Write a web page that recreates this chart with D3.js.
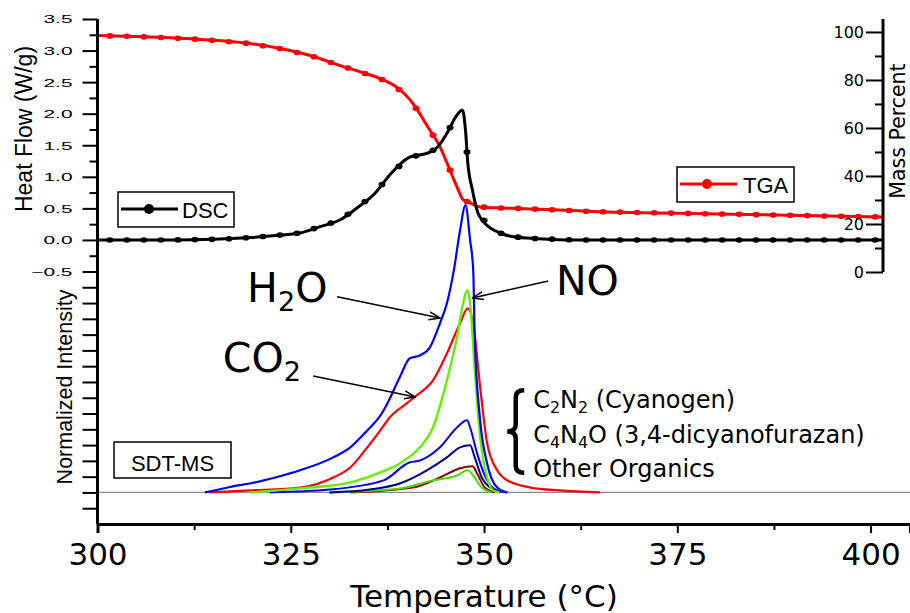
<!DOCTYPE html>
<html>
<head>
<meta charset="utf-8">
<script src="https://cdn.jsdelivr.net/npm/d3@7"></script>
<style>
  body { margin: 0; background: #fff; }
</style>
</head>
<body>
<div id="chart"></div>
<script>
// DSC heat flow (W/g)
var dscTemp = [300, 310, 315, 318, 320, 323, 326.2, 328.8, 331.4, 333.6, 335.9, 337.8, 340.2, 343.0, 343.9, 345.2, 346.5, 347.2, 347.6, 347.9, 348.5, 349.2, 350.8, 352.1, 353.8, 357, 362, 401.6];
var dscHeat = [0, 0, 0.01, 0.025, 0.04, 0.07, 0.11, 0.21, 0.32, 0.51, 0.74, 1.03, 1.30, 1.39, 1.46, 1.69, 1.98, 2.06, 1.74, 1.22, 0.79, 0.43, 0.19, 0.11, 0.05, 0.02, 0, 0];

// TGA mass percent
var tgaTemp = [300, 306.8, 313.3, 319.7, 323.6, 327.5, 331.4, 334, 337, 338.7, 340.8, 342.8, 344.3, 345.2, 346.5, 347.3, 348.2, 349.5, 352.1, 354.3, 365, 380, 401.6];
var tgaMass = [98.5, 97.9, 96.9, 95.2, 93.1, 90.2, 86.0, 83.4, 80.0, 77.0, 70.2, 60.1, 52.2, 45.5, 35.5, 30.1, 28.8, 27.1, 26.7, 26.5, 25.1, 24.2, 22.9];

// SDT-MS traces, normalized to the H2O peak
var h2oTemp = [313.9, 316, 317.5, 319.7, 323, 326.2, 330.5, 332.7, 334.9, 336.6, 337.5, 339.1, 340.4, 341.7, 343.0, 344.3, 345.2, 346.1, 346.9, 347.6, 348.2, 348.6, 348.8, 349.5, 350.4, 351.7, 353.0];
var h2oInt = [0, 0.012, 0.021, 0.031, 0.052, 0.077, 0.122, 0.157, 0.216, 0.268, 0.310, 0.401, 0.467, 0.477, 0.505, 0.589, 0.659, 0.774, 0.913, 1.0, 0.878, 0.774, 0.540, 0.251, 0.101, 0.017, 0];
var noTemp = [319.7, 326.2, 332.7, 336.6, 339.1, 341.7, 343.4, 345.2, 346.5, 347.3, 347.8, 348.2, 348.8, 349.5, 350.4, 351.2, 352];
var noInt = [0, 0.014, 0.035, 0.070, 0.101, 0.157, 0.226, 0.390, 0.540, 0.659, 0.704, 0.659, 0.425, 0.192, 0.052, 0.007, 0];
var co2Temp = [314.6, 319.7, 326.2, 330.5, 332.7, 334.9, 336.4, 337.8, 340.0, 341.3, 343.4, 345.2, 346.9, 347.9, 348.6, 349.5, 350.4, 351.7, 353.0, 356.0, 359.8, 365];
var co2Int = [0, 0.007, 0.017, 0.052, 0.087, 0.157, 0.209, 0.261, 0.310, 0.338, 0.390, 0.484, 0.589, 0.641, 0.589, 0.366, 0.171, 0.077, 0.042, 0.017, 0.007, 0];
var c2n2Temp = [322.3, 330, 337, 340.4, 341.7, 344.3, 346.5, 347.8, 348.2, 349.1, 350.4, 351.7, 353];
var c2n2Int = [0, 0.010, 0.042, 0.105, 0.111, 0.157, 0.226, 0.251, 0.226, 0.136, 0.042, 0.007, 0];
var c4n4oTemp = [330, 335.2, 339.1, 342.6, 345.2, 346.9, 348.2, 348.8, 349.7, 350.8, 352.1];
var c4n4oInt = [0, 0.010, 0.031, 0.077, 0.122, 0.157, 0.164, 0.122, 0.052, 0.017, 0];
var orgATemp = [332.7, 340.8, 344.3, 346.9, 348.5, 349.1, 350.1, 351.4];
var orgAInt = [0, 0.017, 0.052, 0.084, 0.091, 0.066, 0.017, 0];
var orgBTemp = [330, 339.1, 343.4, 346.5, 347.9, 348.6, 349.7, 351];
var orgBInt = [0, 0.014, 0.042, 0.059, 0.077, 0.059, 0.017, 0];

// tick labels
var tempTicks = [300, 325, 350, 375, 400];
var heatTicks = [-0.5, 0, 0.5, 1, 1.5, 2, 2.5, 3, 3.5];
var massTicks = [0, 20, 40, 60, 80, 100];

var svgWidth = 910;
var svgHeight = 613;

var svg = d3.select("#chart")
  .append("svg")
  .attr("width", svgWidth)
  .attr("height", svgHeight)
  .style("font-family", "DejaVu Sans");

svg.append("defs").append("marker")
  .attr("id", "arrow")
  .attr("viewBox", "0 0 12 10")
  .attr("refX", 11)
  .attr("refY", 5)
  .attr("markerWidth", 12)
  .attr("markerHeight", 10)
  .attr("markerUnits", "userSpaceOnUse")
  .attr("orient", "auto")
  .append("path")
  .attr("d", "M0,1 L11,5 L0,9")
  .attr("fill", "none")
  .attr("stroke", "black")
  .attr("stroke-width", 1.5);

// Create Scale Functions
var xScale = d3.scaleLinear().domain([300, 405.1]).range([97.5, 910]);
var yHeat = d3.scaleLinear().domain([-4.5, 3.5]).range([524, 19]);
var yMass = d3.scaleLinear().domain([0, 105.4]).range([272, 19]);
var yMS = d3.scaleLinear().domain([0, 1]).range([yHeat(-4), yHeat(0.55)]);

function zip(a, b) { return a.map(function(t, i) { return [t, b[i]]; }); }

var msLine = d3.line()
  .x(d => xScale(d[0]))
  .y(d => yMS(d[1]))
  .curve(d3.curveMonotoneX);

// MS baseline
svg.append("line")
  .attr("x1", xScale(300)).attr("x2", svgWidth)
  .attr("y1", yMS(0)).attr("y2", yMS(0))
  .attr("stroke", "#8a8a8a")
  .attr("stroke-width", 1.2);

var msSeries = [
  { t: orgATemp, v: orgAInt, color: "#8b0000", w: 2 },
  { t: orgBTemp, v: orgBInt, color: "#44dd00", w: 2 },
  { t: c4n4oTemp, v: c4n4oInt, color: "#00008b", w: 2 },
  { t: c2n2Temp, v: c2n2Int, color: "#0000ff", w: 2 },
  { t: co2Temp, v: co2Int, color: "#ff0000", w: 2.2 },
  { t: noTemp, v: noInt, color: "#66ee00", w: 2.4 },
  { t: h2oTemp, v: h2oInt, color: "#0000ff", w: 2.2 }
];

svg.selectAll(".ms")
  .data(msSeries)
  .enter()
  .append("path")
  .attr("class", "ms")
  .attr("d", d => msLine(zip(d.t, d.v)))
  .attr("fill", "none")
  .attr("stroke", d => d.color)
  .attr("stroke-width", d => d.w);

// DSC and TGA curves with markers
var markerTemps = d3.range(301.6, 401.5, 2.2);

var dscLine = d3.line()
  .x(d => xScale(d[0]))
  .y(d => yHeat(d[1]))
  .curve(d3.curveMonotoneX);
var tgaLine = d3.line()
  .x(d => xScale(d[0]))
  .y(d => yMass(d[1]))
  .curve(d3.curveMonotoneX);

var tgaAt = d3.scaleLinear().domain(tgaTemp).range(tgaMass);
var dscAt = d3.scaleLinear().domain(dscTemp).range(dscHeat);

svg.append("path")
  .attr("d", tgaLine(zip(tgaTemp, tgaMass)))
  .attr("fill", "none")
  .attr("stroke", "#ff0000")
  .attr("stroke-width", 3);
svg.selectAll(".tgaDot")
  .data(markerTemps)
  .enter()
  .append("ellipse")
  .attr("cx", d => xScale(d))
  .attr("cy", d => yMass(tgaAt(d)))
  .attr("rx", 3.5).attr("ry", 2.8)
  .attr("fill", "#ff0000");

svg.append("path")
  .attr("d", dscLine(zip(dscTemp, dscHeat)))
  .attr("fill", "none")
  .attr("stroke", "black")
  .attr("stroke-width", 3);
svg.selectAll(".dscDot")
  .data(markerTemps)
  .enter()
  .append("ellipse")
  .attr("cx", d => xScale(d))
  .attr("cy", d => yHeat(dscAt(d)))
  .attr("rx", 3.5).attr("ry", 2.8)
  .attr("fill", "black");

// Axes
var bottomAxis = d3.axisBottom(xScale).tickValues(tempTicks).tickSize(9).tickPadding(10).tickFormat(d3.format("d"));
var bottomMinor = d3.axisBottom(xScale).tickValues(d3.range(312.5, 405, 25)).tickSize(6).tickFormat("");

var xg = svg.append("g")
  .attr("transform", `translate(0, ${yHeat(-4.5)})`)
  .call(bottomAxis);
xg.selectAll("text").style("font-size", "31px").style("font-family", "DejaVu Sans").attr("fill", "black");
svg.append("g")
  .attr("transform", `translate(0, ${yHeat(-4.5)})`)
  .call(bottomMinor)
  .select(".domain").remove();

var leftMinor = d3.axisLeft(yHeat)
  .tickValues(d3.range(-0.25, 3.5, 0.5))
  .tickSize(8).tickFormat("");
var leftLower = d3.axisLeft(yHeat)
  .tickValues(d3.range(-4.25, -0.5, 0.25))
  .tickSize(15).tickFormat("");
var leftAxis = d3.axisLeft(yHeat)
  .tickValues(heatTicks)
  .tickSize(15)
  .tickFormat(d3.format(".1f"));

svg.append("g").attr("transform", `translate(${xScale(300)}, 0)`).call(leftMinor).select(".domain").remove();
svg.append("g").attr("transform", `translate(${xScale(300)}, 0)`).call(leftLower).select(".domain").remove();
var yg = svg.append("g")
  .attr("transform", `translate(${xScale(300)}, 0)`)
  .call(leftAxis);
yg.selectAll("text")
  .attr("x", 0)
  .attr("dy", "0.36em")
  .attr("transform", "translate(-25,0) scale(1.9,1)")
  .style("font-size", "11px")
  .style("font-family", "Liberation Sans")
  .attr("fill", "black");
yg.select(".domain")
  .attr("d", `M0,${yHeat(3.5)}V${yHeat(-4.5)}`);

var massMinor = d3.axisLeft(yMass).tickValues(d3.range(10, 100, 20)).tickSize(8).tickFormat("");
var massAxis = d3.axisLeft(yMass).tickValues(massTicks).tickSize(17).tickPadding(2);
svg.append("g").attr("transform", `translate(883, 0)`).call(massMinor).select(".domain").remove();
var mg = svg.append("g")
  .attr("transform", `translate(883, 0)`)
  .call(massAxis);
mg.selectAll("text").style("font-size", "16px").style("font-family", "DejaVu Sans").attr("fill", "black");
mg.select(".domain").attr("d", `M0,${yMass(105.4)}V${yMass(0)}`);

svg.selectAll(".domain").attr("stroke", "black").attr("stroke-width", 3);
svg.selectAll(".tick line").attr("stroke", "black").attr("stroke-width", 2);

// Axis labels
svg.append("text")
  .attr("transform", "translate(24, 129) rotate(-90)")
  .attr("text-anchor", "middle")
  .attr("dominant-baseline", "central")
  .style("font-family", "Liberation Sans")
  .style("font-size", "23px")
  .text("Heat Flow (W/g)");

svg.append("text")
  .attr("transform", "translate(65, 387) rotate(-90)")
  .attr("text-anchor", "middle")
  .attr("dominant-baseline", "central")
  .style("font-family", "Liberation Sans")
  .style("font-size", "21.5px")
  .text("Normalized Intensity");

svg.append("text")
  .attr("transform", "translate(898, 131) rotate(-90)")
  .attr("text-anchor", "middle")
  .attr("dominant-baseline", "central")
  .style("font-size", "20.5px")
  .text("Mass Percent");

svg.append("text")
  .attr("x", xScale(350))
  .attr("y", 607)
  .attr("text-anchor", "middle")
  .style("font-size", "31px")
  .text("Temperature (°C)");

// Legends
function legendBox(x, y, w, h) {
  svg.append("rect")
    .attr("x", x).attr("y", y).attr("width", w).attr("height", h)
    .attr("fill", "white").attr("stroke", "black").attr("stroke-width", 1.5);
}

legendBox(118, 192, 116, 35);
svg.append("line").attr("x1", 121).attr("x2", 178).attr("y1", 209).attr("y2", 209)
  .attr("stroke", "black").attr("stroke-width", 3);
svg.append("circle").attr("cx", 149).attr("cy", 209).attr("r", 5).attr("fill", "black");
svg.append("text").attr("x", 182).attr("y", 218)
  .style("font-family", "Liberation Sans").style("font-size", "22px").text("DSC");

legendBox(677, 167, 117, 35);
svg.append("line").attr("x1", 680).attr("x2", 737).attr("y1", 184).attr("y2", 184)
  .attr("stroke", "#ff0000").attr("stroke-width", 3);
svg.append("circle").attr("cx", 707).attr("cy", 184).attr("r", 5).attr("fill", "#ff0000");
svg.append("text").attr("x", 743).attr("y", 193)
  .style("font-family", "Liberation Sans").style("font-size", "22px").text("TGA");

legendBox(114, 442, 117, 36);
svg.append("text").attr("x", 172.5).attr("y", 471)
  .attr("text-anchor", "middle")
  .style("font-family", "Liberation Sans").style("font-size", "22px").text("SDT-MS");

// Species annotations (temperature, heat-flow axis units)
function chem(parts, t, v, size) {
  var txt = svg.append("text")
    .attr("x", xScale(t))
    .attr("y", yHeat(v))
    .style("font-size", size + "px");
  var shifted = false;
  parts.forEach(function(p) {
    var sub = /^\d$/.test(p);
    var dy = 0;
    if (sub && !shifted) { dy = size * 0.22; shifted = true; }
    else if (!sub && shifted) { dy = -size * 0.22; shifted = false; }
    txt.append("tspan")
      .style("font-size", (sub ? size * 0.66 : size) + "px")
      .attr("dy", dy)
      .text(p);
  });
  return txt;
}

chem(["H", "2", "O"], 319.35, -0.98, 41);
chem(["C", "O", "2"], 316.2, -2.09, 41);
chem(["N", "O"], 359.3, -0.87, 41);

var arrows = [
  { t1: 331.0, v1: -0.90, t2: 344.3, v2: -1.236 },
  { t1: 327.9, v1: -2.155, t2: 341.1, v2: -2.488 },
  { t1: 358.3, v1: -0.65, t2: 348.5, v2: -0.919 }
];
svg.selectAll(".arrowLine")
  .data(arrows)
  .enter()
  .append("line")
  .attr("x1", d => xScale(d.t1)).attr("y1", d => yHeat(d.v1))
  .attr("x2", d => xScale(d.t2)).attr("y2", d => yHeat(d.v2))
  .attr("stroke", "black")
  .attr("stroke-width", 1.5)
  .attr("marker-end", "url(#arrow)");

// brace and organics list
var bx = xScale(353.0), bTop = yHeat(-2.38), bBot = yHeat(-3.69), bw = 17;
var bMid = (bTop + bBot) / 2, q = 7;
svg.append("path")
  .attr("d", `M${bx + bw},${bTop} Q${bx + bw / 2},${bTop} ${bx + bw / 2},${bTop + q} L${bx + bw / 2},${bMid - q} Q${bx + bw / 2},${bMid} ${bx},${bMid} Q${bx + bw / 2},${bMid} ${bx + bw / 2},${bMid + q} L${bx + bw / 2},${bBot - q} Q${bx + bw / 2},${bBot} ${bx + bw},${bBot}`)
  .attr("fill", "none")
  .attr("stroke", "black")
  .attr("stroke-width", 4.5);

chem(["C", "2", "N", "2", " (Cyanogen)"], 356.35, -2.66, 24);
chem(["C", "4", "N", "4", "O (3,4-dicyanofurazan)"], 356.35, -3.215, 24);
chem(["Other Organics"], 356.35, -3.755, 24);
</script>
</body>
</html>
